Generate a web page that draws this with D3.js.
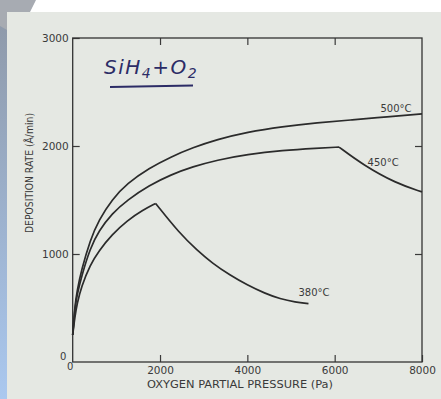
<!DOCTYPE html>
<html>
<head>
<meta charset="utf-8">
<script src="https://cdn.jsdelivr.net/npm/d3@7"></script>
<style>
  body { margin: 0; background: #fff; }
  text { font-family: "DejaVu Sans", sans-serif; fill: #3a3a3a; }
</style>
</head>
<body>
<div id="chart"></div>
<script>
"use strict";

// values (pressure in Pa, rate in A/min)
const xTicks = [2000, 4000, 6000, 8000]
const yTicks = [1000, 2000, 3000]

// each series is split at its break point so the corner stays sharp
const series500 = [[[0, 250], [50, 520], [100, 660], [200, 850], [400, 1130], [600, 1315], [900, 1505], [1250, 1655], [1750, 1795], [2250, 1900], [2750, 1985], [3300, 2060], [4000, 2130], [4800, 2180], [5600, 2215], [6400, 2242], [7200, 2270], [8000, 2298]]]
const series450 = [
  [[0, 250], [50, 500], [100, 620], [200, 790], [400, 1055], [600, 1215], [900, 1375], [1250, 1500], [1750, 1635], [2250, 1735], [2750, 1808], [3300, 1870], [4000, 1922], [4800, 1960], [5600, 1980], [6100, 1990]],
  [[6100, 1990], [6650, 1825], [7400, 1655], [8000, 1575]]
]
const series380 = [
  [[0, 250], [50, 420], [100, 540], [200, 700], [400, 900], [600, 1030], [900, 1180], [1250, 1310], [1600, 1405], [1900, 1468]],
  [[1900, 1468], [2450, 1190], [2850, 1035], [3200, 914], [3600, 805], [4000, 712], [4400, 636], [4750, 584], [5100, 554], [5400, 540]]
]
const seriesNames = ["500°C", "450°C", "380°C"]
const labelPos = [[7405, 2315], [7110, 1815], [5527, 611]]

const W = 441, H = 399
const x = d3.scaleLinear().domain([0, 8000]).range([72.7, 422])
const y = d3.scaleLinear().domain([0, 3000]).range([362, 38])

const svg = d3.select("#chart").append("svg")
  .attr("width", W).attr("height", H)

// slide background bits around the scan
let defs = svg.append("defs")
let grad = defs.append("linearGradient").attr("id", "strip")
  .attr("x1", 0).attr("y1", 0).attr("x2", 0).attr("y2", 1)
grad.append("stop").attr("offset", 0).attr("stop-color", "#8d97a6")
grad.append("stop").attr("offset", 1).attr("stop-color", "#aac8ef")
svg.append("rect").attr("x", 0).attr("y", 0).attr("width", 7).attr("height", H).attr("fill", "url(#strip)")
svg.append("path").attr("d", "M0,0 L36,0 L30,12 L7,12 L7,30 L0,26 Z").attr("fill", "#a7abb2")

// paper
svg.append("rect").attr("x", 7).attr("y", 12).attr("width", W - 7).attr("height", H - 12)
  .attr("fill", "#e5e8e3")

// axes (ticks point inwards like the original)
svg.append("g").attr("transform", `translate(0,${y(0)})`)
  .call(d3.axisBottom(x).tickValues(xTicks).tickSize(-7).tickPadding(5).tickFormat(d3.format("d")))
svg.append("g").attr("transform", `translate(0,${y(3000)})`)
  .call(d3.axisTop(x).tickValues([2000, 4000, 6000]).tickSize(-7).tickFormat(""))
svg.append("g").attr("transform", `translate(${x(0)},0)`)
  .call(d3.axisLeft(y).tickValues(yTicks).tickSize(-7).tickPadding(4).tickFormat(d3.format("d")))
svg.append("g").attr("transform", `translate(${x(8000)},0)`)
  .call(d3.axisRight(y).tickValues([1000, 2000]).tickSize(-7).tickFormat(""))

svg.selectAll(".domain").remove()
svg.selectAll(".tick line").attr("stroke", "#3a3a3a").attr("stroke-width", 1.2)
svg.selectAll(".tick text").style("font-size", "10.5px").attr("fill", "#3a3a3a")

// frame
svg.append("rect")
  .attr("x", x(0)).attr("y", y(3000))
  .attr("width", x(8000) - x(0)).attr("height", y(0) - y(3000))
  .attr("fill", "none").attr("stroke", "#333").attr("stroke-width", 1.3)

// origin zeros
svg.append("text").attr("x", 60).attr("y", 360).style("font-size", "10px").text("0")
svg.append("text").attr("x", 67).attr("y", 370).style("font-size", "10px").text("0")

// axis titles
svg.append("text")
  .attr("x", 147).attr("y", 388)
  .attr("textLength", 186).attr("lengthAdjust", "spacingAndGlyphs")
  .style("font-size", "10px")
  .text("OXYGEN PARTIAL PRESSURE (Pa)")
svg.append("text")
  .attr("transform", "translate(33,233)rotate(-90)")
  .attr("textLength", 120).attr("lengthAdjust", "spacingAndGlyphs")
  .style("font-size", "10px")
  .text("DEPOSITION RATE (Å/min)")

// curves
let line = d3.line().curve(d3.curveBasis).x(d => x(d[0])).y(d => y(d[1]))
let allSeries = [series500, series450, series380]
allSeries.forEach(parts => {
  svg.append("g").selectAll("path").data(parts).enter()
    .append("path")
    .attr("d", line)
    .attr("fill", "none")
    .attr("stroke", "#2b2b2b")
    .attr("stroke-width", 1.7)
})

svg.selectAll(".curveLabel").data(seriesNames).enter()
  .append("text")
  .attr("class", "curveLabel")
  .attr("x", (d, i) => x(labelPos[i][0]))
  .attr("y", (d, i) => y(labelPos[i][1]))
  .attr("text-anchor", "middle")
  .style("font-size", "10px")
  .text(d => d)

// handwritten note
let note = svg.append("text")
  .attr("x", 104).attr("y", 74)
  .style("font-size", "20px")
  .style("font-style", "italic")
  .style("letter-spacing", "1.5px")
  .style("fill", "#2c2c66")
note.append("tspan").text("SiH")
note.append("tspan").attr("dy", 4).style("font-size", "14px").text("4")
note.append("tspan").attr("dy", -4).text("+O")
note.append("tspan").attr("dy", 4).style("font-size", "14px").text("2")
svg.append("line")
  .attr("x1", 110).attr("x2", 193).attr("y1", 87).attr("y2", 85.5)
  .attr("stroke", "#2c2c66").attr("stroke-width", 2)
</script>
</body>
</html>
